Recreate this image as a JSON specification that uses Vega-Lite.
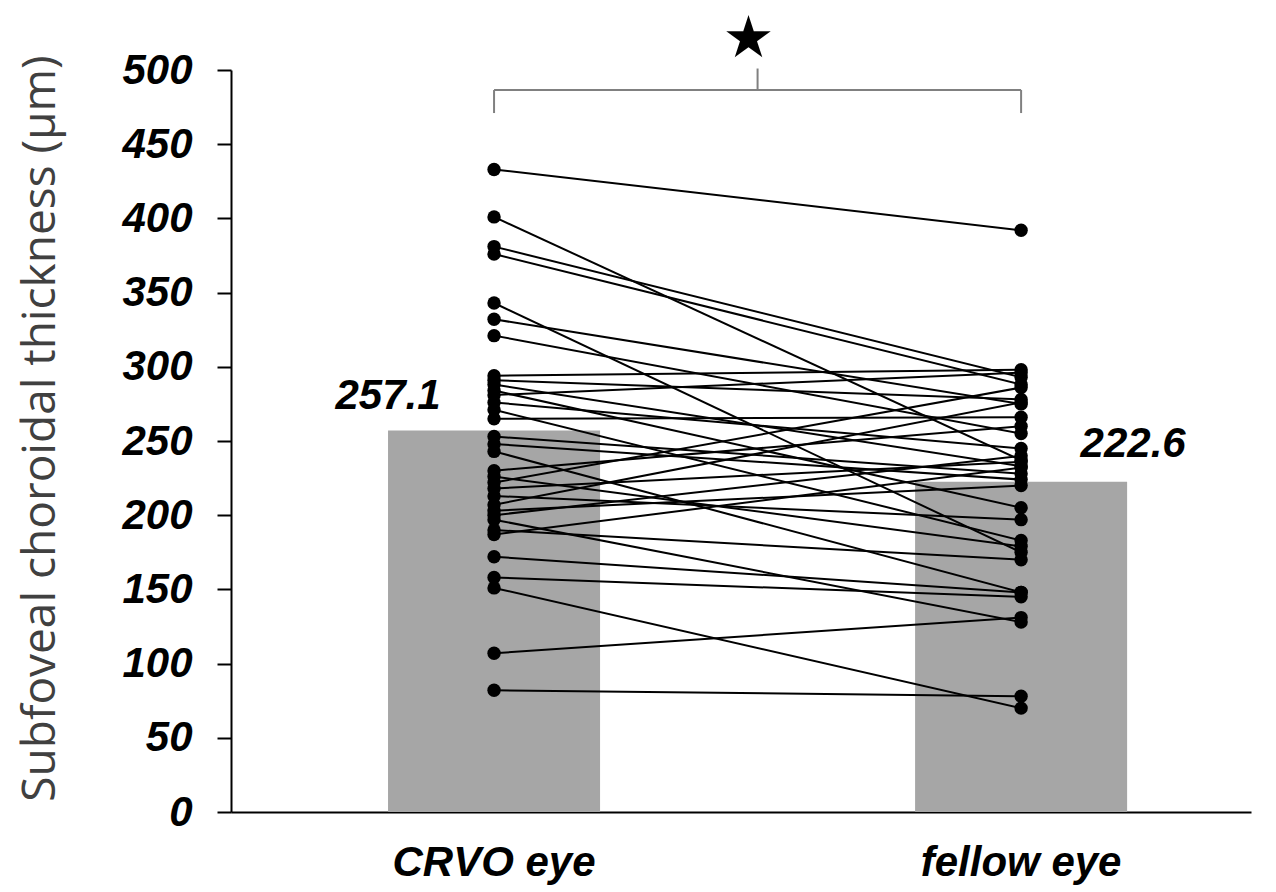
{
  "$schema": "https://vega.github.io/schema/vega-lite/v6.json",
  "width": 1020,
  "height": 742,
  "autosize": {"type": "none"},
  "padding": {"left": 231, "top": 70, "right": 25, "bottom": 80},
  "background": "white",
  "config": {"view": {"stroke": null}, "font": "Liberation Sans"},
  "datasets": {
    "pairs": [
      {"id": 1, "eye": "CRVO eye", "value": 433}, {"id": 1, "eye": "fellow eye", "value": 392},
      {"id": 2, "eye": "CRVO eye", "value": 401}, {"id": 2, "eye": "fellow eye", "value": 237},
      {"id": 3, "eye": "CRVO eye", "value": 381}, {"id": 3, "eye": "fellow eye", "value": 293},
      {"id": 4, "eye": "CRVO eye", "value": 376}, {"id": 4, "eye": "fellow eye", "value": 288},
      {"id": 5, "eye": "CRVO eye", "value": 343}, {"id": 5, "eye": "fellow eye", "value": 175},
      {"id": 6, "eye": "CRVO eye", "value": 332}, {"id": 6, "eye": "fellow eye", "value": 275},
      {"id": 7, "eye": "CRVO eye", "value": 321}, {"id": 7, "eye": "fellow eye", "value": 255},
      {"id": 8, "eye": "CRVO eye", "value": 294}, {"id": 8, "eye": "fellow eye", "value": 298},
      {"id": 9, "eye": "CRVO eye", "value": 291}, {"id": 9, "eye": "fellow eye", "value": 278},
      {"id": 10, "eye": "CRVO eye", "value": 288}, {"id": 10, "eye": "fellow eye", "value": 233},
      {"id": 11, "eye": "CRVO eye", "value": 284}, {"id": 11, "eye": "fellow eye", "value": 205},
      {"id": 12, "eye": "CRVO eye", "value": 281}, {"id": 12, "eye": "fellow eye", "value": 296},
      {"id": 13, "eye": "CRVO eye", "value": 276}, {"id": 13, "eye": "fellow eye", "value": 245},
      {"id": 14, "eye": "CRVO eye", "value": 271}, {"id": 14, "eye": "fellow eye", "value": 183},
      {"id": 15, "eye": "CRVO eye", "value": 265}, {"id": 15, "eye": "fellow eye", "value": 266},
      {"id": 16, "eye": "CRVO eye", "value": 253}, {"id": 16, "eye": "fellow eye", "value": 228},
      {"id": 17, "eye": "CRVO eye", "value": 248}, {"id": 17, "eye": "fellow eye", "value": 224},
      {"id": 18, "eye": "CRVO eye", "value": 243}, {"id": 18, "eye": "fellow eye", "value": 148},
      {"id": 19, "eye": "CRVO eye", "value": 230}, {"id": 19, "eye": "fellow eye", "value": 260},
      {"id": 20, "eye": "CRVO eye", "value": 226}, {"id": 20, "eye": "fellow eye", "value": 179},
      {"id": 21, "eye": "CRVO eye", "value": 222}, {"id": 21, "eye": "fellow eye", "value": 286},
      {"id": 22, "eye": "CRVO eye", "value": 218}, {"id": 22, "eye": "fellow eye", "value": 236},
      {"id": 23, "eye": "CRVO eye", "value": 213}, {"id": 23, "eye": "fellow eye", "value": 197},
      {"id": 24, "eye": "CRVO eye", "value": 207}, {"id": 24, "eye": "fellow eye", "value": 276},
      {"id": 25, "eye": "CRVO eye", "value": 203}, {"id": 25, "eye": "fellow eye", "value": 220},
      {"id": 26, "eye": "CRVO eye", "value": 200}, {"id": 26, "eye": "fellow eye", "value": 240},
      {"id": 27, "eye": "CRVO eye", "value": 197}, {"id": 27, "eye": "fellow eye", "value": 128},
      {"id": 28, "eye": "CRVO eye", "value": 190}, {"id": 28, "eye": "fellow eye", "value": 170},
      {"id": 29, "eye": "CRVO eye", "value": 187}, {"id": 29, "eye": "fellow eye", "value": 232},
      {"id": 30, "eye": "CRVO eye", "value": 172}, {"id": 30, "eye": "fellow eye", "value": 148},
      {"id": 31, "eye": "CRVO eye", "value": 158}, {"id": 31, "eye": "fellow eye", "value": 145},
      {"id": 32, "eye": "CRVO eye", "value": 151}, {"id": 32, "eye": "fellow eye", "value": 70},
      {"id": 33, "eye": "CRVO eye", "value": 107}, {"id": 33, "eye": "fellow eye", "value": 131},
      {"id": 34, "eye": "CRVO eye", "value": 82}, {"id": 34, "eye": "fellow eye", "value": 78}
    ],
    "means": [
      {"eye": "CRVO eye", "value": 257.1},
      {"eye": "fellow eye", "value": 222.6}
    ]
  },
  "layer": [
    {
      "data": {"name": "means"},
      "mark": {"type": "bar", "color": "#a6a6a6"},
      "encoding": {
        "x": {
          "field": "eye",
          "type": "nominal",
          "scale": {"domain": ["CRVO eye", "·", "fellow eye"], "paddingInner": 0.1954, "paddingOuter": 0.533, "align": 0.559},
          "axis": {
            "title": null,
            "ticks": false,
            "labelAngle": 0,
            "labelLimit": 0,
            "labelFont": "Liberation Sans",
            "labelFontSize": 42,
            "labelFontWeight": "bold",
            "labelFontStyle": "italic",
            "labelColor": "black",
            "labelPadding": 30,
            "domainColor": "black",
            "domainWidth": 2,
            "labelExpr": "datum.value == '·' ? '' : datum.label"
          }
        },
        "y": {
          "field": "value",
          "type": "quantitative",
          "scale": {"domain": [0, 500], "nice": false, "zero": true},
          "axis": {
            "title": "Subfoveal choroidal thickness (µm)",
            "values": [0, 50, 100, 150, 200, 250, 300, 350, 400, 450, 500],
            "grid": false,
            "tickSize": 14,
            "tickWidth": 2,
            "tickColor": "black",
            "domainColor": "black",
            "domainWidth": 2,
            "labelFont": "Liberation Sans",
            "labelFontSize": 42,
            "labelFontWeight": "bold",
            "labelFontStyle": "italic",
            "labelColor": "black",
            "labelPadding": 25,
            "titleFont": "Open Sans",
            "titleFontSize": 46,
            "titleFontWeight": "normal",
            "titleColor": "#404040",
            "titleX": -191,
            "titleY": 358,
            "titleAngle": -90,
            "titleAlign": "center",
            "titleBaseline": "middle",
            "titleLimit": 0
          }
        }
      }
    },
    {
      "data": {"name": "means"},
      "transform": [{"filter": "datum.eye == 'CRVO eye'"}],
      "mark": {"type": "text", "dx": -106, "dy": -12, "baseline": "bottom", "align": "center", "font": "Liberation Sans", "fontSize": 42, "fontWeight": "bold", "fontStyle": "italic", "color": "black"},
      "encoding": {
        "x": {"field": "eye", "type": "nominal"},
        "y": {"field": "value", "type": "quantitative"},
        "text": {"field": "value", "type": "quantitative", "format": ".1f"}
      }
    },
    {
      "data": {"name": "means"},
      "transform": [{"filter": "datum.eye == 'fellow eye'"}],
      "mark": {"type": "text", "dx": 112, "dy": -16, "baseline": "bottom", "align": "center", "font": "Liberation Sans", "fontSize": 42, "fontWeight": "bold", "fontStyle": "italic", "color": "black"},
      "encoding": {
        "x": {"field": "eye", "type": "nominal"},
        "y": {"field": "value", "type": "quantitative"},
        "text": {"field": "value", "type": "quantitative", "format": ".1f"}
      }
    },
    {
      "data": {"name": "pairs"},
      "mark": {"type": "line", "color": "black", "strokeWidth": 2},
      "encoding": {
        "x": {"field": "eye", "type": "nominal"},
        "y": {"field": "value", "type": "quantitative"},
        "detail": {"field": "id", "type": "nominal"}
      }
    },
    {
      "data": {"name": "pairs"},
      "mark": {"type": "point", "filled": true, "color": "black", "size": 180, "opacity": 1},
      "encoding": {
        "x": {"field": "eye", "type": "nominal"},
        "y": {"field": "value", "type": "quantitative"}
      }
    },
    {
      "data": {"values": [{"a": 1}]},
      "mark": {"type": "rule", "color": "#808080", "strokeWidth": 2},
      "encoding": {
        "x": {"datum": "CRVO eye", "type": "nominal"},
        "x2": {"datum": "fellow eye"},
        "y": {"datum": 486.5, "type": "quantitative"}
      }
    },
    {
      "data": {"values": [{"a": 1}]},
      "mark": {"type": "rule", "color": "#808080", "strokeWidth": 2},
      "encoding": {
        "x": {"datum": "CRVO eye", "type": "nominal"},
        "y": {"datum": 486.5, "type": "quantitative"},
        "y2": {"datum": 471}
      }
    },
    {
      "data": {"values": [{"a": 1}]},
      "mark": {"type": "rule", "color": "#808080", "strokeWidth": 2},
      "encoding": {
        "x": {"datum": "fellow eye", "type": "nominal"},
        "y": {"datum": 486.5, "type": "quantitative"},
        "y2": {"datum": 471}
      }
    },
    {
      "data": {"values": [{"a": 1}]},
      "mark": {"type": "rule", "color": "#808080", "strokeWidth": 2},
      "encoding": {
        "x": {"datum": "·", "type": "nominal"},
        "y": {"datum": 486.5, "type": "quantitative"},
        "y2": {"datum": 501}
      }
    },
    {
      "data": {"values": [{"a": 1}]},
      "mark": {"type": "text", "text": "★", "font": "DejaVu Sans", "fontSize": 58, "color": "black", "baseline": "middle", "align": "center", "dx": -9},
      "encoding": {
        "x": {"datum": "·", "type": "nominal"},
        "y": {"datum": 520, "type": "quantitative"}
      }
    }
  ]
}
